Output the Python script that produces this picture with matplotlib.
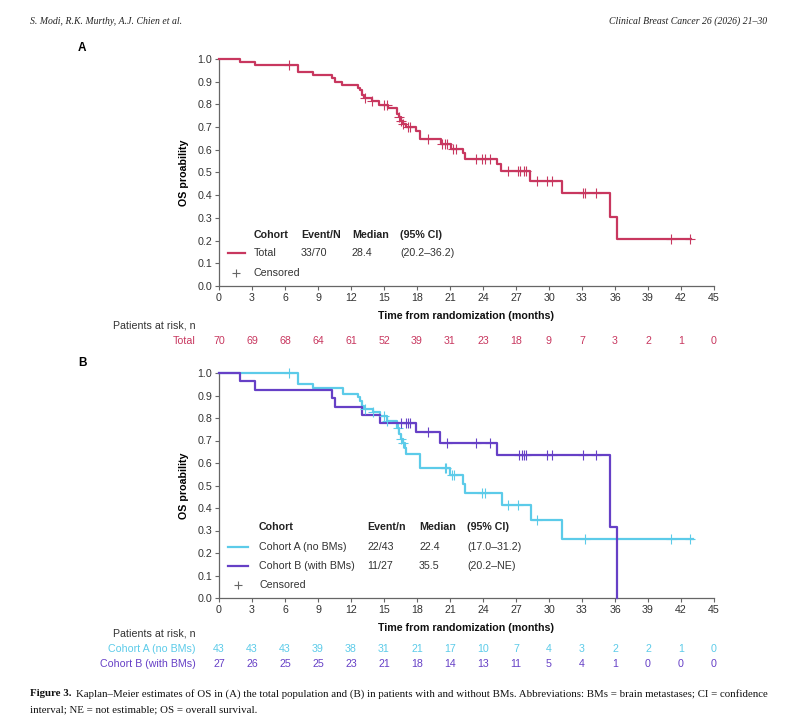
import numpy as np
import matplotlib
matplotlib.use("Agg")
import matplotlib.pyplot as plt
import matplotlib.transforms as mtransforms
from matplotlib.lines import Line2D

plt.rcParams['font.family'] = ['Liberation Sans', 'DejaVu Sans']

W, H = 800, 724

# Panel A - total population (event times, survival after the step, censor times)
total_times = [1.9, 3.3, 7.2, 8.5, 10.3, 10.5, 11.2, 12.6, 12.8, 13.0, 13.2, 13.9, 14.5,
               15.4, 16.2, 16.4, 16.5, 16.7, 17.0, 17.9, 18.3, 20.2, 21.1, 22.2, 22.4,
               25.3, 25.6, 28.3, 31.2, 35.5, 36.2]
total_surv = [0.986, 0.972, 0.944, 0.930, 0.915, 0.900, 0.887, 0.873, 0.862, 0.842, 0.828,
              0.814, 0.799, 0.782, 0.758, 0.743, 0.728, 0.713, 0.699, 0.684, 0.646, 0.626,
              0.605, 0.584, 0.560, 0.536, 0.508, 0.464, 0.408, 0.306, 0.207]
total_censor = [6.4, 13.3, 13.9, 15.0, 15.3, 16.4, 16.5, 16.7, 17.2, 17.4, 19.0, 20.3, 20.5,
                20.7, 21.3, 21.5, 23.4, 23.9, 24.2, 24.6, 26.3, 27.2, 27.4, 27.7, 27.9,
                28.9, 29.8, 30.3, 33.1, 33.3, 34.3, 41.1, 42.8]
total_end = 42.9

# Panel B - cohort A (no BMs)
coha_times = [7.2, 8.5, 11.3, 12.6, 12.8, 13.0, 13.2, 14.0, 14.6, 15.3, 16.2, 16.4, 16.5,
              16.7, 16.9, 17.0, 18.3, 21.0, 22.2, 22.4, 25.7, 28.4, 31.2]
coha_surv = [0.953, 0.933, 0.907, 0.892, 0.877, 0.855, 0.840, 0.825, 0.810, 0.788, 0.757,
             0.727, 0.705, 0.690, 0.667, 0.638, 0.578, 0.545, 0.505, 0.467, 0.415, 0.348,
             0.263]
coha_censor = [6.4, 13.3, 14.0, 15.0, 15.3, 16.3, 16.5, 16.7, 20.5, 20.6, 21.2, 21.4, 23.9,
               24.2, 26.3, 27.2, 28.9, 33.3, 41.1, 42.8]
coha_end = 43.1

# Panel B - cohort B (with BMs)
cohb_times = [1.9, 3.3, 10.3, 10.5, 13.0, 14.6, 17.9, 20.1, 25.3, 35.5, 36.2]
cohb_surv = [0.963, 0.926, 0.888, 0.850, 0.815, 0.778, 0.739, 0.690, 0.634, 0.317, 0.0]
cohb_censor = [16.5, 17.0, 17.2, 17.4, 19.0, 20.7, 23.4, 24.6, 27.3, 27.5, 27.7, 27.9,
               29.8, 30.3, 33.1, 34.3]
cohb_end = 36.2

months = list(range(0, 46, 3))
risk_total = [70, 69, 68, 64, 61, 52, 39, 31, 23, 18, 9, 7, 3, 2, 1, 0]
risk_a = [43, 43, 43, 39, 38, 31, 21, 17, 10, 7, 4, 3, 2, 2, 1, 0]
risk_b = [27, 26, 25, 25, 23, 21, 18, 14, 13, 11, 5, 4, 1, 0, 0, 0]

RED = '#c8375f'
CYAN = '#5ccbe9'
PURPLE = '#6640c6'
GREY = '#666666'
TXT = '#333333'
FS = 7.7


def fx(px):
    return px / W


def fy(py):
    return 1 - py / H


def km(ax, times, surv, censor, end, color):
    x = [0] + times + [end]
    y = [1.0] + surv + [surv[-1]]
    ax.step(x, y, where='post', color=color, lw=1.6, clip_on=False, zorder=3)
    idx = np.searchsorted(times, censor, side='right') - 1
    cy = [1.0 if i < 0 else surv[i] for i in idx]
    ax.plot(censor, cy, '+', color=color, ms=6.5, mew=0.8, clip_on=False, zorder=4)


def style(ax):
    ax.set_xlim(0, 45)
    ax.set_ylim(0, 1.0)
    ax.set_xticks(months)
    ax.set_yticks(np.arange(0, 1.01, 0.1))
    ax.set_yticklabels([f'{v:.1f}' for v in np.arange(0, 1.01, 0.1)])
    for s in ['top', 'right']:
        ax.spines[s].set_visible(False)
    for s in ['left', 'bottom']:
        ax.spines[s].set_color(GREY)
        ax.spines[s].set_linewidth(0.9)
    ax.tick_params(direction='out', length=3, width=0.8, color=GREY,
                   labelsize=FS, labelcolor=TXT, pad=2)
    ax.set_ylabel('OS proability', fontsize=FS, fontweight='bold', labelpad=6)
    ax.set_xlabel('Time from randomization (months)', fontsize=FS,
                  fontweight='bold', labelpad=6, color='#111111')


fig = plt.figure(figsize=(W / 100, H / 100), dpi=100)

axA = fig.add_axes([fx(219), fy(286), fx(714) - fx(219), fy(59) - fy(286)])
axB = fig.add_axes([fx(219), fy(598), fx(714) - fx(219), fy(373) - fy(598)])
style(axA)
style(axB)

km(axA, total_times, total_surv, total_censor, total_end, RED)
km(axB, coha_times, coha_surv, coha_censor, coha_end, CYAN)
km(axB, cohb_times, cohb_surv, cohb_censor, cohb_end, PURPLE)

# header
fig.text(fx(30), fy(21), 'S. Modi, R.K. Murthy, A.J. Chien et al.', family='Liberation Serif',
         style='italic', fontsize=7, va='center', color='#222222')
fig.text(fx(767), fy(21), 'Clinical Breast Cancer 26 (2026) 21\u201330', family='Liberation Serif',
         style='italic', fontsize=7, va='center', ha='right', color='#222222')

fig.text(fx(78), fy(48), 'A', fontsize=8.5, fontweight='bold', va='center')
fig.text(fx(78), fy(363), 'B', fontsize=8.5, fontweight='bold', va='center')

# legend panel A
cols = [254, 301, 352, 400]
for c, t in zip(cols, ['Cohort', 'Event/N', 'Median', '(95% CI)']):
    fig.text(fx(c), fy(235), t, fontsize=FS, fontweight='bold', va='center', color='#222222')
for c, t in zip(cols, ['Total', '33/70', '28.4', '(20.2\u201336.2)']):
    fig.text(fx(c), fy(253), t, fontsize=FS, va='center', color=TXT)
fig.add_artist(Line2D([fx(228), fx(245)], [fy(253)] * 2, color=RED, lw=1.6,
                      transform=fig.transFigure))
fig.add_artist(Line2D([fx(236)], [fy(273)], marker='+', ms=6, mew=0.8, color=GREY,
                      transform=fig.transFigure))
fig.text(fx(254), fy(273), 'Censored', fontsize=FS, va='center', color=TXT)

# legend panel B
cols = [259, 367, 419, 467]
for c, t in zip(cols, ['Cohort', 'Event/n', 'Median', '(95% CI)']):
    fig.text(fx(c), fy(527), t, fontsize=FS, fontweight='bold', va='center', color='#222222')
for c, t in zip(cols, ['Cohort A (no BMs)', '22/43', '22.4', '(17.0\u201331.2)']):
    fig.text(fx(c), fy(547), t, fontsize=FS, va='center', color=TXT)
for c, t in zip(cols, ['Cohort B (with BMs)', '11/27', '35.5', '(20.2\u2013NE)']):
    fig.text(fx(c), fy(566), t, fontsize=FS, va='center', color=TXT)
fig.add_artist(Line2D([fx(228), fx(248)], [fy(547)] * 2, color=CYAN, lw=1.6,
                      transform=fig.transFigure))
fig.add_artist(Line2D([fx(228), fx(248)], [fy(566)] * 2, color=PURPLE, lw=1.6,
                      transform=fig.transFigure))
fig.add_artist(Line2D([fx(238)], [fy(585)], marker='+', ms=6, mew=0.8, color=GREY,
                      transform=fig.transFigure))
fig.text(fx(259), fy(585), 'Censored', fontsize=FS, va='center', color=TXT)

# patients at risk
tA = mtransforms.blended_transform_factory(axA.transData, fig.transFigure)
tB = mtransforms.blended_transform_factory(axB.transData, fig.transFigure)

fig.text(fx(196), fy(326), 'Patients at risk, n', fontsize=FS, ha='right', va='center', color=TXT)
fig.text(fx(196), fy(341), 'Total', fontsize=FS, ha='right', va='center', color=RED)
for m, n in zip(months, risk_total):
    axA.text(m, fy(341), str(n), transform=tA, fontsize=FS, ha='center', va='center',
             color=RED, clip_on=False)

fig.text(fx(196), fy(634), 'Patients at risk, n', fontsize=FS, ha='right', va='center', color=TXT)
fig.text(fx(196), fy(649), 'Cohort A (no BMs)', fontsize=FS, ha='right', va='center', color=CYAN)
fig.text(fx(196), fy(664), 'Cohort B (with BMs)', fontsize=FS, ha='right', va='center', color=PURPLE)
for m, a, b in zip(months, risk_a, risk_b):
    axB.text(m, fy(649), str(a), transform=tB, fontsize=FS, ha='center', va='center',
             color=CYAN, clip_on=False)
    axB.text(m, fy(664), str(b), transform=tB, fontsize=FS, ha='center', va='center',
             color=PURPLE, clip_on=False)

# caption
r = fig.canvas.get_renderer()
cap_bold = fig.text(fx(30), fy(694), 'Figure 3.', family='Liberation Serif', fontweight='bold',
                    fontsize=7.8, va='center', color='#111111')
bb = cap_bold.get_window_extent(renderer=r)
fig.text(bb.x1 / W + fx(5), fy(694),
         'Kaplan\u2013Meier estimates of OS in (A) the total population and (B) in patients with and '
         'without BMs. Abbreviations: BMs = brain metastases; CI = confidence',
         family='Liberation Serif', fontsize=7.8, va='center', color='#111111')
fig.text(fx(30), fy(710), 'interval; NE = not estimable; OS = overall survival.',
         family='Liberation Serif', fontsize=7.8, va='center', color='#111111')

fig.savefig('out.png', dpi=100)
